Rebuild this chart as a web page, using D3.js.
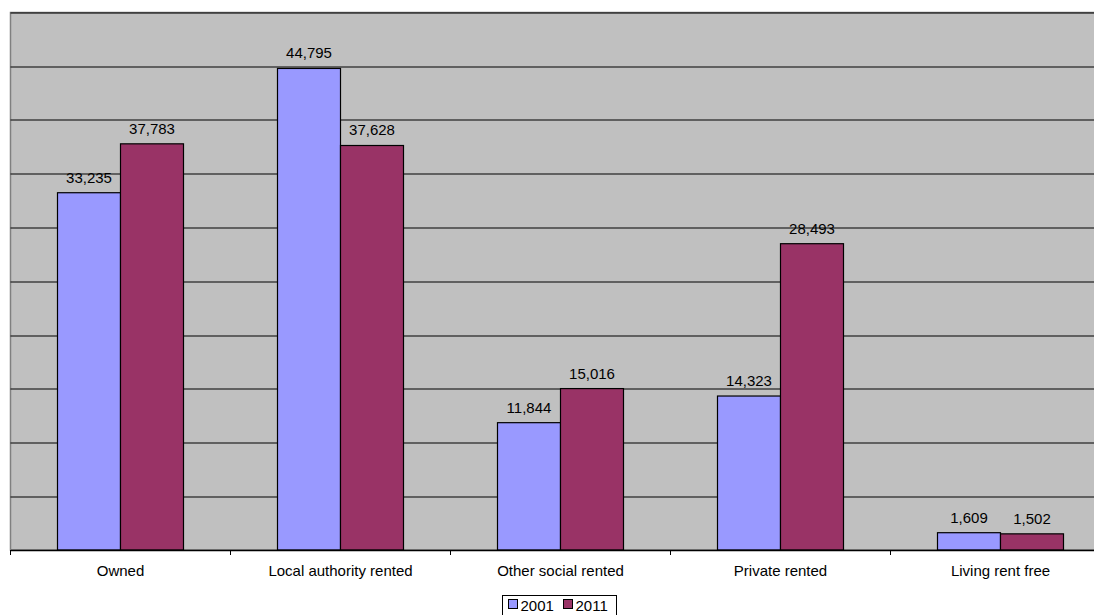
<!DOCTYPE html>
<html>
<head>
<meta charset="utf-8">
<script src="https://cdn.jsdelivr.net/npm/d3@7"></script>
<style>
  body { margin: 0; background: #fff; }
  svg text { font-family: "Liberation Sans", Arial, sans-serif; fill: #000; }
</style>
</head>
<body>
<div id="chartDiv"></div>
<script>
// data
const categories = ['Owned', 'Local authority rented', 'Other social rented', 'Private rented', 'Living rent free'];
const seriesNames = ['2001', '2011'];
const values2001 = [33235, 44795, 11844, 14323, 1609];
const values2011 = [37783, 37628, 15016, 28493, 1502];
const colors = ['#9999ff', '#993366'];

var displayChart = function(){
	const canvasW = 1094, canvasH = 615;
	const svg = d3.select('#chartDiv')
		.append('svg')
		.attr('width', canvasW)
		.attr('height', canvasH);

	const margin = {top: 12.5, left: 10.5};
	const graphWidth = 1100;
	const graphHeight = 537.5;

	const graph = svg.append('g')
		.attr('transform', `translate(${margin.left},${margin.top})`);

	// scales
	const y = d3.scaleLinear().domain([0, 50000]).range([graphHeight, 0]);
	const x = d3.scaleBand().domain(categories).range([0, graphWidth]);
	const xs = d3.scaleBand().domain(seriesNames).range([47, x.bandwidth() - 47]);

	// plot background
	graph.append('rect')
		.attr('width', graphWidth)
		.attr('height', graphHeight)
		.attr('fill', '#c0c0c0')
		.attr('stroke', '#808080')
		.attr('stroke-width', 1.5);

	// gridlines
	graph.append('g')
		.selectAll('line')
		.data(y.ticks(10).filter(d => d > 0))
		.enter().append('line')
		.attr('x1', 0).attr('x2', graphWidth)
		.attr('y1', d => Math.round(y(d)) + 0.5)
		.attr('y2', d => Math.round(y(d)) + 0.5)
		.attr('stroke', '#000');

	const data = categories.map((c, i) => ({
		name: c,
		vals: [
			{key: '2001', value: values2001[i], color: colors[0]},
			{key: '2011', value: values2011[i], color: colors[1]}
		]
	}));

	const groups = graph.selectAll('g.cat')
		.data(data)
		.enter().append('g')
		.attr('class', 'cat')
		.attr('transform', d => `translate(${x(d.name)},0)`);

	groups.selectAll('rect')
		.data(d => d.vals)
		.enter().append('rect')
		.attr('x', d => xs(d.key))
		.attr('width', xs.bandwidth())
		.attr('y', d => y(d.value))
		.attr('height', d => graphHeight - y(d.value))
		.attr('fill', d => d.color)
		.attr('stroke', '#000')
		.attr('stroke-width', 1.2);

	groups.selectAll('text')
		.data(d => d.vals)
		.enter().append('text')
		.attr('x', d => xs(d.key) + xs.bandwidth() / 2)
		.attr('y', d => y(d.value) - 10)
		.attr('text-anchor', 'middle')
		.style('font-size', '15px')
		.text(d => d3.format(',')(d.value));

	// x axis
	const xAxis = d3.axisBottom(x).tickSize(0).tickPadding(15);
	const xAxisGroup = graph.append('g')
		.attr('transform', `translate(0,${graphHeight})`)
		.call(xAxis);
	xAxisGroup.select('.domain').attr('stroke', '#000').attr('stroke-width', 1.5);
	xAxisGroup.selectAll('text')
		.style('font-size', '15px')
		.style('font-family', '"Liberation Sans", Arial, sans-serif');

	// tick marks between categories
	xAxisGroup.selectAll('line.sep')
		.data(categories)
		.enter().append('line')
		.attr('class', 'sep')
		.attr('x1', d => x(d)).attr('x2', d => x(d))
		.attr('y1', 0).attr('y2', 5)
		.attr('stroke', '#000');

	// legend
	const legend = svg.append('g').attr('transform', 'translate(502.5,595.5)');
	legend.append('rect')
		.attr('width', 114)
		.attr('height', 30)
		.attr('fill', '#fff')
		.attr('stroke', '#000');
	const items = legend.selectAll('g.item')
		.data(seriesNames)
		.enter().append('g')
		.attr('class', 'item')
		.attr('transform', (d, i) => `translate(${6 + i * 55},4)`);
	items.append('rect')
		.attr('width', 9).attr('height', 9)
		.attr('fill', (d, i) => colors[i])
		.attr('stroke', '#000');
	items.append('text')
		.attr('x', 12)
		.attr('y', 11)
		.style('font-size', '15px')
		.text(d => d);
};

displayChart();
</script>
</body>
</html>
